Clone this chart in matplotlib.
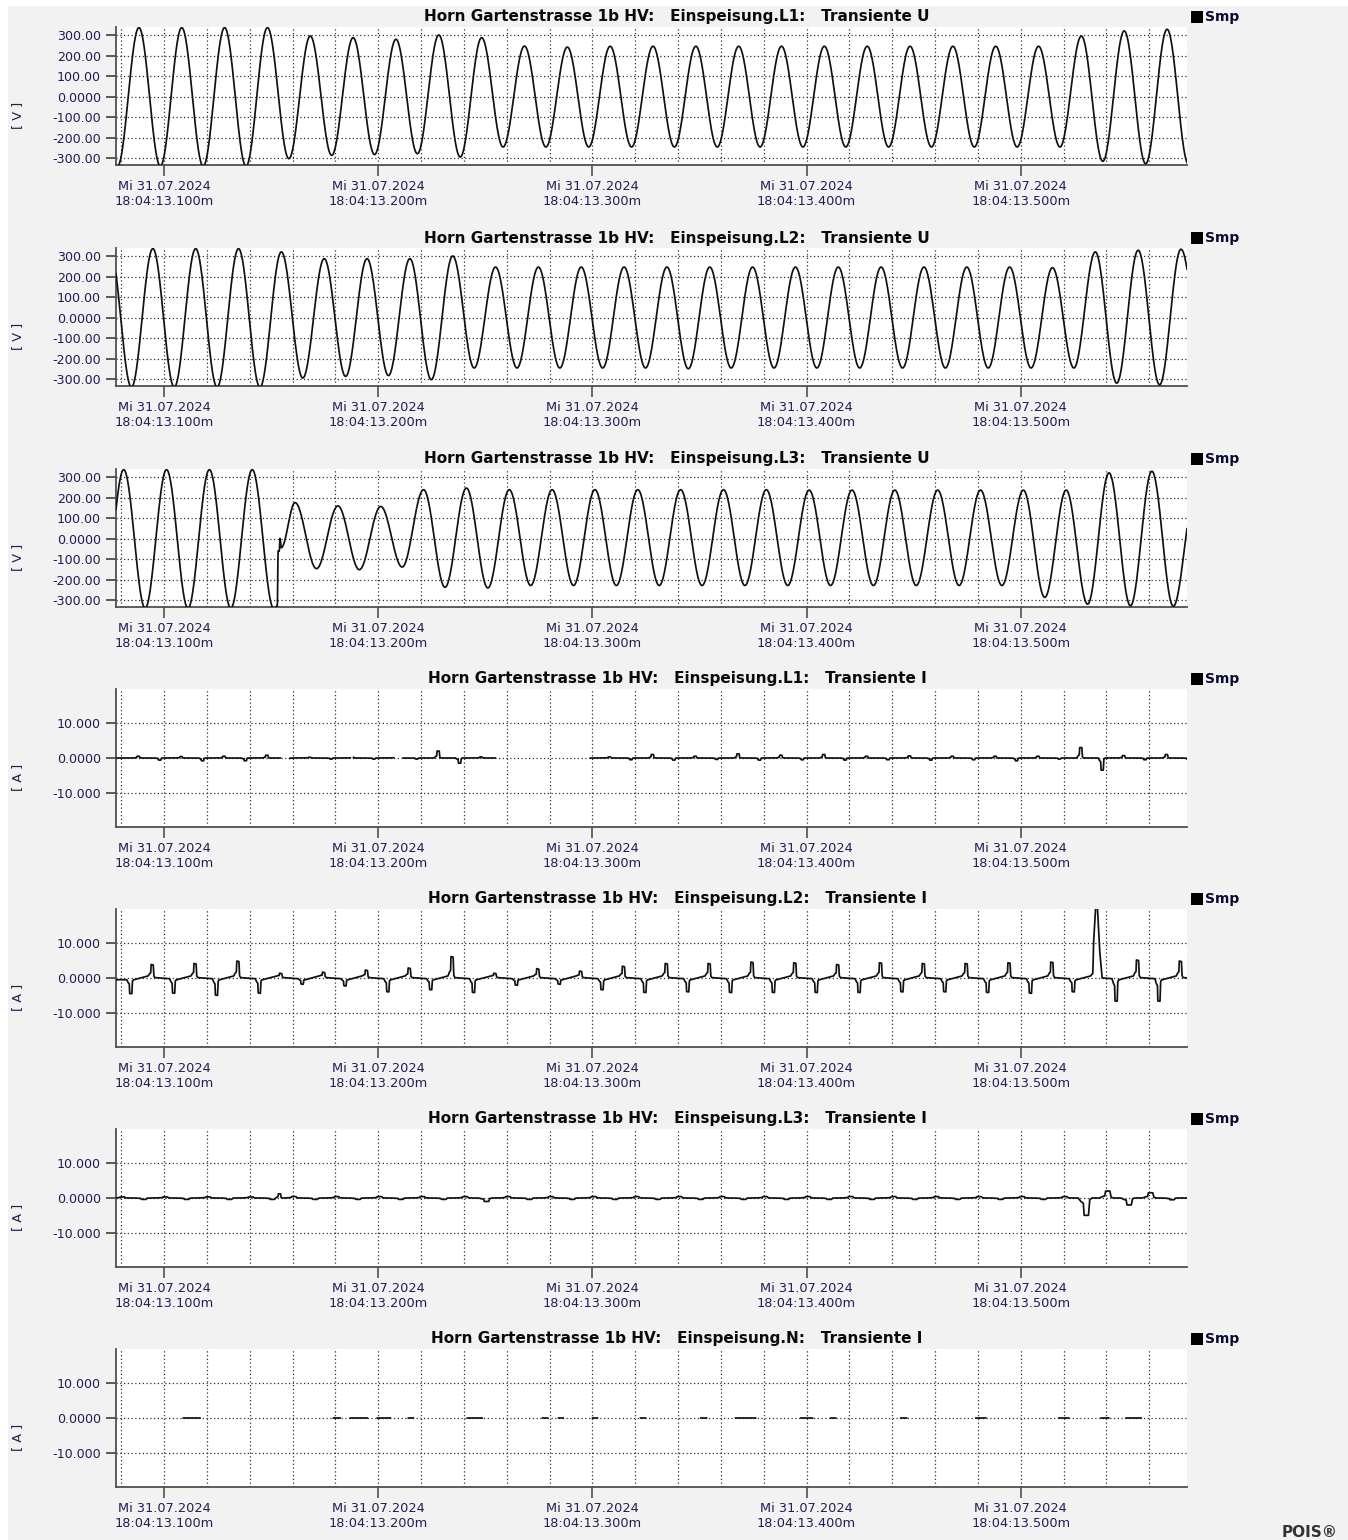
import numpy as np
import matplotlib
matplotlib.use("Agg")
import matplotlib.pyplot as plt
from matplotlib.patches import Rectangle

plt.rcParams['font.family'] = ['DejaVu Sans']
plt.rcParams['axes.unicode_minus'] = False

# ---------------- data ----------------
# time axis: milliseconds after 18:04:13.000
time_window_ms = [77.6, 577.6]
major_ticks_ms = [100, 200, 300, 400, 500]
x_tick_labels = ["Mi 31.07.2024\n18:04:13.100m", "Mi 31.07.2024\n18:04:13.200m",
                 "Mi 31.07.2024\n18:04:13.300m", "Mi 31.07.2024\n18:04:13.400m",
                 "Mi 31.07.2024\n18:04:13.500m"]
grid_ticks_ms = [80, 100, 120, 140, 160, 180, 200, 220, 240, 260, 280, 300, 320, 340,
                 360, 380, 400, 420, 440, 460, 480, 500, 520, 540, 560]

volt_ticks = [-300, -200, -100, 0, 100, 200, 300]
volt_tick_labels = ["-300.00", "-200.00", "-100.00", "0.0000", "100.00", "200.00", "300.00"]
amp_ticks = [-10, 0, 10]
amp_tick_labels = ["-10.000", "0.0000", "10.000"]
volt_ylim = [-334, 339]
amp_ylim = [-19.9, 19.9]

panel_titles = [
    "Horn Gartenstrasse 1b HV:   Einspeisung.L1:   Transiente U",
    "Horn Gartenstrasse 1b HV:   Einspeisung.L2:   Transiente U",
    "Horn Gartenstrasse 1b HV:   Einspeisung.L3:   Transiente U",
    "Horn Gartenstrasse 1b HV:   Einspeisung.L1:   Transiente I",
    "Horn Gartenstrasse 1b HV:   Einspeisung.L2:   Transiente I",
    "Horn Gartenstrasse 1b HV:   Einspeisung.L3:   Transiente I",
    "Horn Gartenstrasse 1b HV:   Einspeisung.N:   Transiente I",
]
panel_units = ["[ V ]", "[ V ]", "[ V ]", "[ A ]", "[ A ]", "[ A ]", "[ A ]"]
legend_label = "Smp"

# ---- voltages: extreme values per half cycle (period 20 ms) ----
L1_U_first_peak_ms = 88.3
L1_U_peaks = [336, 336, 336, 336, 295, 287, 279, 300, 287, 246, 241, 245, 245, 245,
              245, 245, 245, 245, 245, 245, 245, 245, 295, 320, 328]
L1_U_first_trough_ms = 78.3
L1_U_troughs = [-340, -340, -340, -340, -303, -287, -283, -279, -295, -246, -246, -246,
                -246, -246, -246, -246, -246, -246, -246, -246, -246, -246, -246, -316,
                -328, -330]

L2_U_first_peak_ms = 74.8
L2_U_peaks = [336, 336, 336, 336, 320, 287, 287, 287, 300, 246, 246, 246, 246, 246,
              246, 246, 246, 246, 246, 246, 246, 246, 243, 320, 328, 333]
L2_U_first_trough_ms = 64.8
L2_U_troughs = [-340, -340, -340, -340, -340, -295, -287, -283, -303, -246, -246, -246,
                -246, -246, -250, -246, -246, -246, -246, -246, -246, -246, -246, -246,
                -320, -328, -200]

L3_U_first_peak_ms = 81.2
L3_U_peaks = [336, 336, 336, 336, 175, 159, 156, 238, 246, 238, 238, 238, 238, 238,
              238, 238, 236, 236, 236, 236, 236, 236, 236, 320, 328, 200]
L3_U_first_trough_ms = 71.2
L3_U_troughs = [-340, -340, -340, -340, -340, -147, -152, -139, -238, -241, -229, -229,
                -229, -229, -229, -229, -229, -229, -229, -229, -229, -229, -287, -320,
                -328, -330]
# switching transient on L3 (time ms, value V)
L3_U_transient_ms = [152.9, 153.3, 153.8, 154.2, 154.7]
L3_U_transient_v = [-330, -60, -62, 0, -45]

# ---- currents: pulse amplitudes at voltage peaks / troughs ----
L1_I_pos_first_ms = 88.3
L1_I_pos = [0.5, 0.4, 0.5, 0.8, 0.2, 0.2, 0.3, 2.0, 0.3, 0.0, 0.0, 0.3, 1.0, 0.5, 1.2,
            0.8, 1.0, 0.5, 0.6, 0.5, 0.5, 0.5, 3.0, 0.7, 1.0]
L1_I_neg_first_ms = 98.3
L1_I_neg = [-0.6, -0.8, -0.8, -0.3, -0.3, -0.3, -0.3, -1.5, -0.2, 0.0, 0.0, -0.5, -0.6,
            -0.4, -0.6, -0.5, -0.6, -0.5, -0.6, -0.5, -0.8, -0.3, -3.5, -0.5, -0.3]
L1_I_gaps_ms = [(154.4, 158.6), (187.0, 188.4), (207.2, 211.6), (254.7, 299.1)]

L2_I_pos_first_ms = 94.8
L2_I_pos = [3.5, 3.8, 4.5, 1.0, 1.3, 1.9, 2.5, 5.8, 1.0, 2.3, 1.6, 3.0, 3.8, 3.8, 4.2,
            4.0, 3.5, 4.0, 3.8, 3.8, 4.0, 4.2, 3.0, 4.8, 4.5]
L2_I_neg_first_ms = 84.8
L2_I_neg = [-4.0, -4.0, -4.6, -4.0, -1.4, -1.9, -3.6, -3.0, -3.8, -1.7, -1.4, -3.0, -3.8,
            -3.6, -3.8, -3.8, -3.8, -3.8, -3.6, -3.6, -3.8, -4.0, -3.6, -6.3, -6.3]
# large inrush pulse on L2 (centre ms, amplitude A)
L2_I_extra_ms = [535.6]
L2_I_extra = [20.0]
# small baseline drift between L2 pulses: after neg, before pos, after pos, before neg
L2_I_base = [-0.5, 0.6, 0.1, -0.2]

L3_I_pos_first_ms = 81.2
L3_I_pos = [0.3, 0.3, 0.3, 0.3, 0.4, 0.4, 0.4, 0.4, 0.4, 0.4, 0.4, 0.4, 0.4, 0.4, 0.4,
            0.4, 0.4, 0.4, 0.4, 0.4, 0.4, 0.4, 0.4, 2.0, 1.5]
L3_I_neg_first_ms = 91.2
L3_I_neg = [-0.4, -0.4, -0.4, -0.4, -0.4, -0.4, -0.4, -0.4, -1.0, -0.4, -0.4, -0.4, -0.4,
            -0.4, -0.4, -0.4, -0.4, -0.4, -0.4, -0.4, -0.4, -0.4, -5.0, -2.0, -0.5]
L3_I_extra_ms = [154.2]
L3_I_extra = [1.2]

# neutral: only short dashes at 0 A are visible
N_I_segments_ms = [(108.9, 116.8), (179.0, 182.2), (186.9, 194.9), (199.5, 205.6),
                   (214.0, 216.4), (241.6, 248.6), (276.6, 279.0), (284.1, 286.4),
                   (300.0, 302.3), (322.4, 324.8), (350.5, 353.3), (366.8, 376.2),
                   (397.2, 402.8), (411.2, 413.6), (443.9, 446.7), (479.0, 483.6),
                   (517.8, 522.4), (537.4, 541.1), (549.1, 556.1)]

# pulse template (ms offset, fraction of amplitude)
pulse_dt = [-2.2, -1.6, -1.0, -0.8, 0.2, 0.5, 1.0]
pulse_frac = [0.0, 0.2, 0.3, 1.0, 1.0, 0.1, 0.0]
spike_dt = [-2.0, -1.6, -1.2, -0.4, 0.2, 1.2, 2.4]
spike_frac = [0.0, 0.35, 0.55, 1.0, 1.0, 0.4, 0.0]

# ---------------- construction ----------------
W, H = 1348, 1540
t = np.arange(time_window_ms[0], time_window_ms[1] + 0.05, 0.1)


def knot_wave(tt, first_peak, peaks, first_trough, troughs, extra_t=(), extra_v=()):
    kt = [first_peak + 20 * k for k in range(len(peaks))] + \
         [first_trough + 20 * k for k in range(len(troughs))] + list(extra_t)
    kv = list(peaks) + list(troughs) + list(extra_v)
    order = np.argsort(kt)
    kt = np.array(kt)[order]
    kv = np.array(kv, dtype=float)[order]
    idx = np.clip(np.searchsorted(kt, tt) - 1, 0, len(kt) - 2)
    t0, t1 = kt[idx], kt[idx + 1]
    v0, v1 = kv[idx], kv[idx + 1]
    f = np.clip((tt - t0) / (t1 - t0), 0, 1)
    s = (1 - np.cos(np.pi * f)) / 2
    return v0 + (v1 - v0) * s


def pulses(tt, first, amps, width=1.0):
    out = np.zeros_like(tt)
    for k, a in enumerate(amps):
        tc = first + 20 * k
        out += a * np.interp(tt - tc, np.array(pulse_dt) * width, pulse_frac, left=0, right=0)
    return out


U1 = knot_wave(t, L1_U_first_peak_ms, L1_U_peaks, L1_U_first_trough_ms, L1_U_troughs)
U2 = knot_wave(t, L2_U_first_peak_ms, L2_U_peaks, L2_U_first_trough_ms, L2_U_troughs)
U3 = knot_wave(t, L3_U_first_peak_ms, L3_U_peaks, L3_U_first_trough_ms, L3_U_troughs,
               L3_U_transient_ms, L3_U_transient_v)

I1 = pulses(t, L1_I_pos_first_ms, L1_I_pos) + pulses(t, L1_I_neg_first_ms, L1_I_neg)
for a, b in L1_I_gaps_ms:
    I1[(t > a) & (t < b)] = np.nan

# L2 baseline knots
bt, bv = [], []
for k in range(len(L2_I_neg)):
    tn = L2_I_neg_first_ms + 20 * k
    tp = L2_I_pos_first_ms + 20 * k
    bt += [tn + 1.2, tp - 2.2, tp + 1.2, tn + 20 - 2.2]
    bv += L2_I_base
I2 = np.interp(t, bt, bv) + pulses(t, L2_I_pos_first_ms, L2_I_pos) + \
    pulses(t, L2_I_neg_first_ms, L2_I_neg)
for te, ae in zip(L2_I_extra_ms, L2_I_extra):
    I2 += ae * np.interp(t - te, spike_dt, spike_frac, left=0, right=0)

I3 = pulses(t, L3_I_pos_first_ms, L3_I_pos, 2.0) + pulses(t, L3_I_neg_first_ms, L3_I_neg, 2.0)
for te, ae in zip(L3_I_extra_ms, L3_I_extra):
    I3 += ae * np.interp(t - te, pulse_dt, pulse_frac, left=0, right=0)

IN = np.full_like(t, np.nan)
for a, b in N_I_segments_ms:
    IN[(t >= a) & (t <= b)] = 0.0

series = [U1, U2, U3, I1, I2, I3, IN]

# ---------------- drawing ----------------
fig = plt.figure(figsize=(W / 100, H / 100), dpi=100, facecolor="white")
fig.patches.append(Rectangle((8 / W, 0), 1 - 8 / W, 1 - 6 / H, transform=fig.transFigure,
                             facecolor="#f2f2f2", edgecolor="none", zorder=-10))

text_col = "#1e1e55"
tops = [27, 248, 469, 689, 909, 1129, 1349]
ax_h = 138
left, right = 116, 1187

for i, (top, y) in enumerate(zip(tops, series)):
    ax = fig.add_axes([left / W, 1 - (top + ax_h) / H, (right - left) / W, ax_h / H])
    ax.set_facecolor("white")
    ax.plot(t, y, color="#111111", lw=1.25, zorder=3)
    ax.set_xlim(time_window_ms)
    if i < 3:
        ax.set_ylim(volt_ylim)
        ax.set_yticks(volt_ticks)
        ax.set_yticklabels(volt_tick_labels)
    else:
        ax.set_ylim(amp_ylim)
        ax.set_yticks(amp_ticks)
        ax.set_yticklabels(amp_tick_labels)
    ax.set_xticks(major_ticks_ms)
    ax.set_xticklabels(x_tick_labels)
    ax.set_xticks(grid_ticks_ms, minor=True)
    ax.tick_params(axis="x", which="major", direction="out", length=8, width=1.2,
                   color="#505050", pad=2.5, labelsize=9.3, labelcolor=text_col)
    ax.tick_params(axis="x", which="minor", length=0)
    ax.tick_params(axis="y", direction="out", length=7.5, width=1.2, color="#404040",
                   pad=3.5, labelsize=9.1, labelcolor=text_col)
    ax.grid(True, which="both", axis="x", linestyle=(0, (1, 2)), color="#303030", lw=0.9)
    ax.grid(True, which="major", axis="y", linestyle=(0, (1, 2)), color="#303030", lw=0.9)
    for s in ["top", "right"]:
        ax.spines[s].set_visible(False)
    for s in ["left", "bottom"]:
        ax.spines[s].set_color("#505050")
        ax.spines[s].set_linewidth(1.3)
    ax.text(-0.0915, 0.36, panel_units[i], transform=ax.transAxes, rotation=90,
            ha="center", va="center", fontsize=9.3, color=text_col)

    # title and legend
    ty = top - 10
    fig.text(677 / W, 1 - ty / H, panel_titles[i], ha="center", va="center",
             fontsize=11, fontweight="bold", color="#0a0a0a")
    fig.patches.append(Rectangle((1191 / W, 1 - (ty + 6) / H), 12 / W, 12 / H,
                                 transform=fig.transFigure, facecolor="black",
                                 edgecolor="none"))
    fig.text(1205 / W, 1 - ty / H, legend_label, ha="left", va="center",
             fontsize=10, fontweight="bold", color="#0a0a30")

fig.text(1282 / W, 1 - 1525 / H, "POIS®", ha="left", va="top", fontsize=11,
         fontweight="bold", color="#333333")

fig.savefig("out.png", dpi=100, facecolor=fig.get_facecolor())
